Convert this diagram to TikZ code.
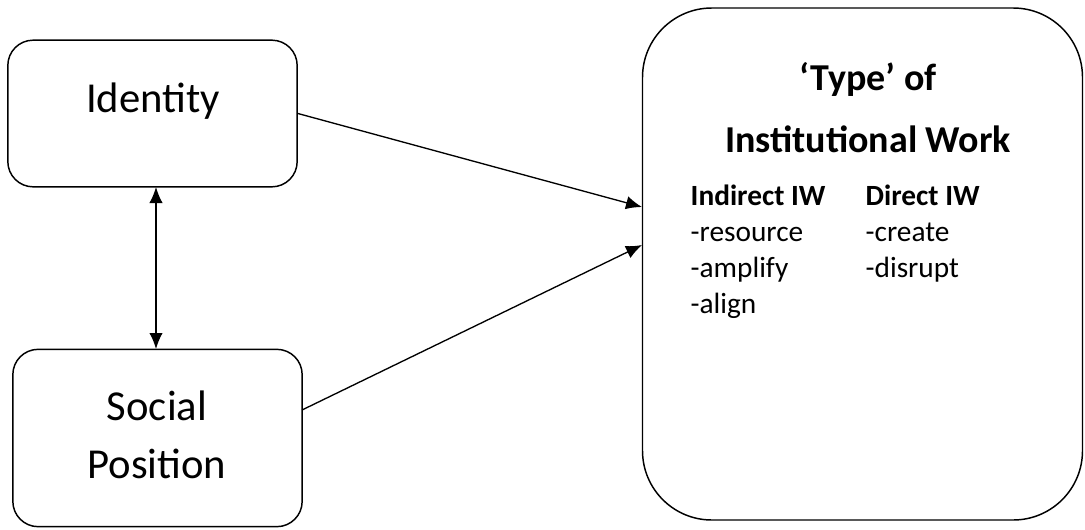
\documentclass[tikz,border=0pt]{standalone}
\usepackage{fontspec}
\setmainfont{Carlito}
\usetikzlibrary{arrows.meta, positioning}

\tikzset{
  boxa/.style={draw, line width=1.1pt, rounded corners=19pt, inner sep=0pt},
  boxb/.style={draw, line width=1.1pt, rounded corners=52pt, inner sep=0pt},
  lbl/.style={inner sep=0pt, anchor=base, font=\fontsize{32}{40}\selectfont},
  ttl/.style={inner sep=0pt, anchor=base, font=\bfseries\fontsize{28.5}{34}\selectfont},
  lst/.style={inner sep=0pt, anchor=base west, align=left, font=\fontsize{22}{27}\selectfont},
}

\begin{document}
\begin{tikzpicture}[x=0.75pt, y=-0.75pt, >={Latex[length=12pt,width=10pt]}, line width=1pt]
    \useasboundingbox (0,0) rectangle (1085,529);

    % Boxes
    \node[boxa, minimum width=217pt, minimum height=110pt] (id) at (152.5,113.5) {};
    \node[boxa, minimum width=217pt, minimum height=133pt] (soc) at (157.5,438) {};
    \node[boxb, minimum width=330pt, minimum height=384pt] (iw) at (862.5,264) {};

    % Texts (base = last line)
    \node[lbl] (idt) at (153,112) {Identity};
    \node[lbl, align=center] (soct) at (157,478) {Social\\[3pt]Position};
    \node[ttl] (ttl1) at (868,90) {‘Type’ of};
    \node[ttl] (ttl2) at (868,152) {Institutional Work};
    \node[lst] (ind) at (690,313) {\textbf{Indirect IW}\\-resource\\-amplify\\-align};
    \node[lst] (dir) at (865,277) {\textbf{Direct IW}\\-create\\-disrupt};

    % Connectors
    \coordinate (a1) at (642,207);
    \coordinate (a2) at (642,245);
    \coordinate (s1) at (302,410);
    \coordinate (v1) at (156,187);
    \coordinate (v2) at (156,349);
    \draw[->] (id.east) -- (a1);
    \draw[->] (s1) -- (a2);
    \draw[<->] (v1) -- (v2);
\end{tikzpicture}
\end{document}
